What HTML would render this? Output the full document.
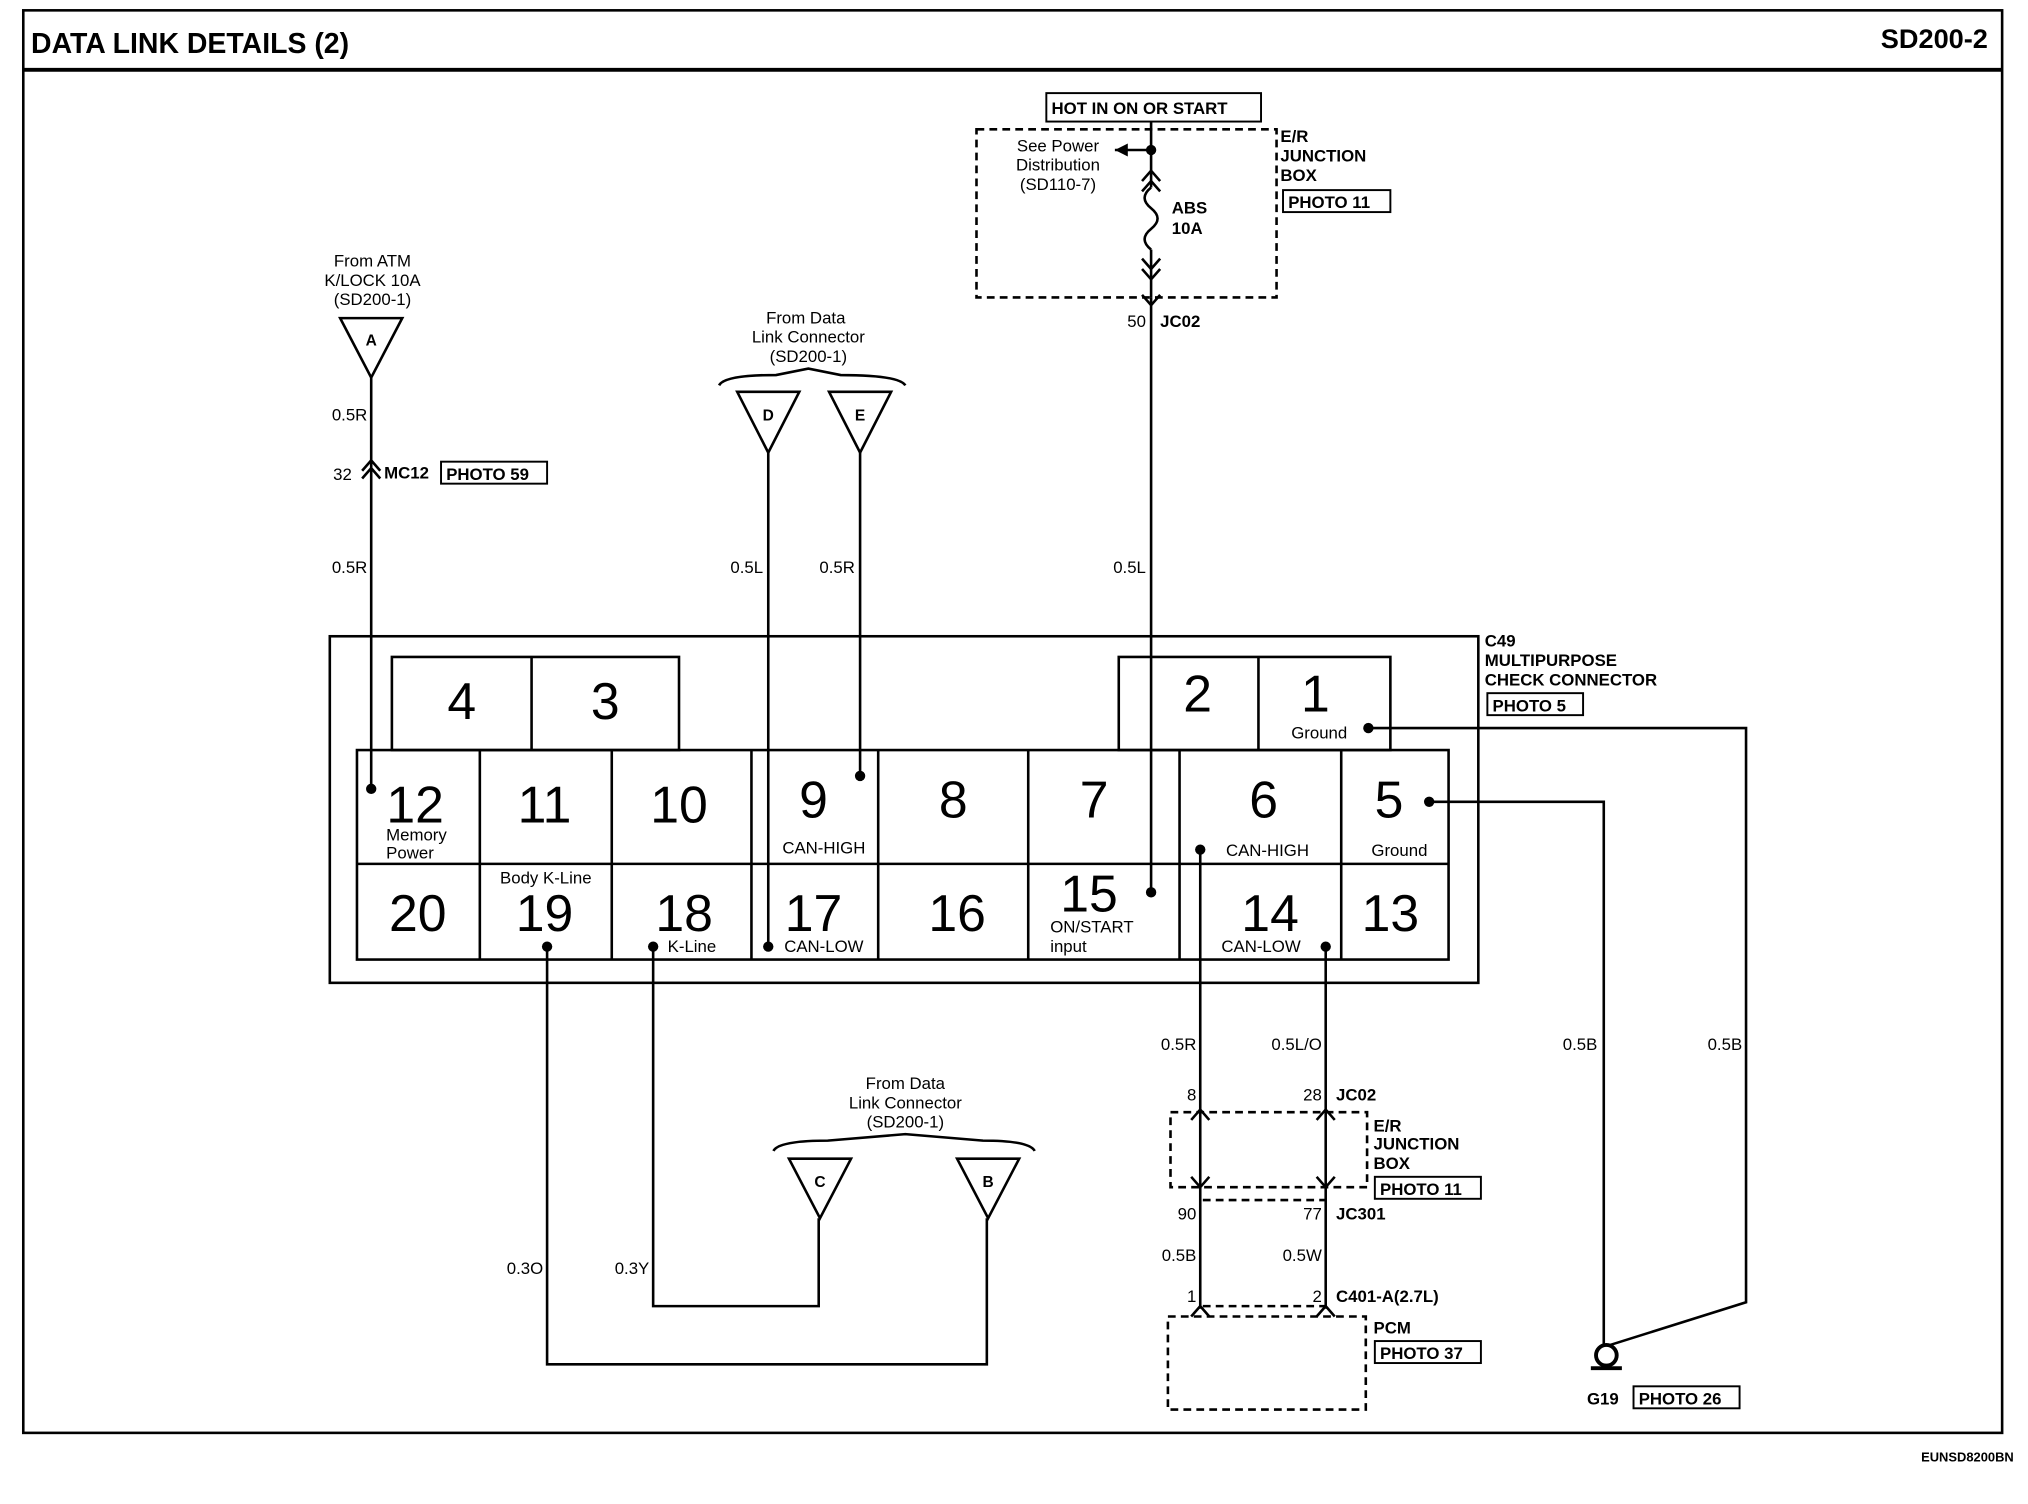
<!DOCTYPE html>
<html><head><meta charset="utf-8"><style>
html,body{margin:0;padding:0;background:#fff;}
svg{display:block;}
text{font-family:"Liberation Sans",Arial,sans-serif;fill:#000;}
.b{font-weight:bold;}
</style></head><body>
<svg width="2028" height="1504" viewBox="0 0 1568 1163" preserveAspectRatio="none" xmlns="http://www.w3.org/2000/svg">
<rect width="1568" height="1163" fill="#fff"/>
<rect x="18" y="8" width="1530" height="1100" fill="none" stroke="#000" stroke-width="2"/>
<line x1="18" y1="54" x2="1548" y2="54" stroke="#000" stroke-width="3"/>
<text x="24" y="41" class="b" font-size="22">DATA LINK DETAILS (2)</text>
<text x="1537" y="37" class="b" font-size="21" text-anchor="end">SD200-2</text>
<text x="1557" y="1130" class="b" font-size="10" text-anchor="end">EUNSD8200BN</text>

<g stroke="#000" fill="none" stroke-width="2">
<rect x="255" y="492" width="888" height="268"/>
<rect x="303" y="508" width="222" height="72"/><line x1="411" y1="508" x2="411" y2="580"/>
<rect x="865" y="508" width="210" height="72"/><line x1="973" y1="508" x2="973" y2="580"/>
<rect x="276" y="580" width="844" height="162"/>
<line x1="276" y1="668" x2="1120" y2="668"/>
<line x1="371" y1="580" x2="371" y2="742"/><line x1="473" y1="580" x2="473" y2="742"/>
<line x1="581" y1="580" x2="581" y2="742"/><line x1="679" y1="580" x2="679" y2="742"/>
<line x1="795" y1="580" x2="795" y2="742"/><line x1="912" y1="580" x2="912" y2="742"/>
<line x1="1037" y1="580" x2="1037" y2="742"/>
<path d="M263 246 L311 246 L287 292 Z"/>
<path d="M570 303 L618 303 L594 350 Z"/>
<path d="M641 303 L689 303 L665 350 Z"/>
<path d="M610 896 L658 896 L634 942 Z"/>
<path d="M740 896 L788 896 L764 942 Z"/>
<path d="M556 298 Q560 290 600 290 L625 285 L650 290 Q695 290 700 298"/>
<path d="M598 890 Q602 882 640 882 L700 877 L760 882 Q796 882 800 890"/>
<polyline points="287,292 287,610"/>
<polyline points="594,350 594,732"/>
<polyline points="665,350 665,600"/>
<polyline points="890,230 890,690"/>
<polyline points="1058,563 1350,563 1350,1007 1245,1040"/>
<polyline points="1105,620 1240,620 1240,1040"/>
<polyline points="423,732 423,1055 763,1055 763,942"/>
<polyline points="505,732 505,1010 633,1010 633,942"/>
<polyline points="928,657 928,1012"/>
<polyline points="1025,732 1025,1012"/>
<rect x="755" y="100" width="232" height="130" stroke-dasharray="6,4"/>
<rect x="809" y="72" width="166" height="22" stroke-width="1.5"/>
<polyline points="890,94 890,145"/>
<path d="M890 145 q-10 8 0 16 q10 8 0 16 q-10 8 0 16" />
<polyline points="890,193 890,230"/>
<polyline points="890,116 862,116"/>
<path d="M883 140 L890 132 L897 140 M883 148 L890 140 L897 148"/>
<path d="M883 200 L890 208 L897 200 M883 208 L890 216 L897 208"/>
<path d="M883 228 L890 236 L897 228"/>
<path d="M280 370 L287 362 L294 370 M280 364 L287 356 L294 364"/>
<rect x="905" y="860" width="152" height="58" stroke-dasharray="6,4"/>
<line x1="930" y1="928" x2="1025" y2="928" stroke-dasharray="6,4"/>
<line x1="930" y1="1010" x2="1025" y2="1010" stroke-dasharray="6,4"/>
<rect x="903" y="1018" width="153" height="72" stroke-dasharray="6,4"/>
<path d="M921 866 L928 858 L935 866 M1018 866 L1025 858 L1032 866"/>
<path d="M921 910 L928 918 L935 910 M1018 910 L1025 918 L1032 910"/>
<path d="M921 1018 L928 1010 L935 1018 M1018 1018 L1025 1010 L1032 1018"/>
<circle cx="1242" cy="1048" r="8" stroke-width="3"/>
<line x1="1230" y1="1058" x2="1254" y2="1058" stroke-width="3"/>
<rect x="341" y="357" width="82" height="17" stroke-width="1.5"/>
<rect x="992" y="147" width="83" height="17" stroke-width="1.5"/>
<rect x="1150" y="536" width="74" height="17" stroke-width="1.5"/>
<rect x="1063" y="910" width="82" height="17" stroke-width="1.5"/>
<rect x="1063" y="1037" width="82" height="17" stroke-width="1.5"/>
<rect x="1263" y="1072" width="82" height="17" stroke-width="1.5"/>
</g>
<path d="M862 116 L872 111 L872 121 Z"/>
<g fill="#000">
<circle cx="287" cy="610" r="4"/><circle cx="594" cy="732" r="4"/><circle cx="665" cy="600" r="4"/>
<circle cx="890" cy="690" r="4"/><circle cx="1058" cy="563" r="4"/><circle cx="1105" cy="620" r="4"/>
<circle cx="423" cy="732" r="4"/><circle cx="505" cy="732" r="4"/><circle cx="928" cy="657" r="4"/>
<circle cx="1025" cy="732" r="4"/><circle cx="890" cy="116" r="4"/>
</g>

<g font-size="14" class="b">
<text x="287" y="267" text-anchor="middle" font-size="12">A</text>
<text x="594" y="325" text-anchor="middle" font-size="12">D</text>
<text x="665" y="325" text-anchor="middle" font-size="12">E</text>
<text x="634" y="918" text-anchor="middle" font-size="12">C</text>
<text x="764" y="918" text-anchor="middle" font-size="12">B</text>
</g>
<g font-size="13" text-anchor="middle">
<text x="288" y="206">From ATM</text><text x="288" y="221">K/LOCK 10A</text><text x="288" y="236">(SD200-1)</text>
<text x="623" y="250">From Data</text><text x="625" y="265">Link Connector</text><text x="625" y="280">(SD200-1)</text>
<text x="700" y="842">From Data</text><text x="700" y="857">Link Connector</text><text x="700" y="872">(SD200-1)</text>
<text x="818" y="117">See Power</text><text x="818" y="132">Distribution</text><text x="818" y="147">(SD110-7)</text>
</g>
<g font-size="13" class="b">
<text x="813" y="88">HOT IN ON OR START</text>
<text x="990" y="110">E/R</text><text x="990" y="125">JUNCTION</text><text x="990" y="140">BOX</text>
<text x="996" y="161">PHOTO 11</text>
<text x="906" y="165">ABS</text><text x="906" y="181">10A</text>
<text x="897" y="253">JC02</text>
<text x="297" y="370">MC12</text><text x="345" y="371">PHOTO 59</text>
<text x="1148" y="500">C49</text><text x="1148" y="515">MULTIPURPOSE</text><text x="1148" y="530">CHECK CONNECTOR</text>
<text x="1154" y="550">PHOTO 5</text>
<text x="1033" y="851">JC02</text>
<text x="1062" y="875">E/R</text><text x="1062" y="889">JUNCTION</text><text x="1062" y="904">BOX</text>
<text x="1067" y="924">PHOTO 11</text>
<text x="1033" y="943">JC301</text>
<text x="1033" y="1007">C401-A(2.7L)</text>
<text x="1062" y="1031">PCM</text><text x="1067" y="1051">PHOTO 37</text>
<text x="1227" y="1086">G19</text><text x="1267" y="1086">PHOTO 26</text>
</g>
<g font-size="13" text-anchor="end">
<text x="284" y="325">0.5R</text><text x="284" y="443">0.5R</text><text x="272" y="371">32</text>
<text x="590" y="443">0.5L</text><text x="661" y="443">0.5R</text><text x="886" y="443">0.5L</text>
<text x="886" y="253">50</text>
<text x="925" y="812">0.5R</text><text x="1022" y="812">0.5L/O</text>
<text x="1235" y="812">0.5B</text><text x="1347" y="812">0.5B</text>
<text x="925" y="851">8</text><text x="1022" y="851">28</text>
<text x="925" y="943">90</text><text x="1022" y="943">77</text>
<text x="925" y="975">0.5B</text><text x="1022" y="975">0.5W</text>
<text x="925" y="1007">1</text><text x="1022" y="1007">2</text>
<text x="420" y="985">0.3O</text><text x="502" y="985">0.3Y</text>
</g>
<g font-size="40" text-anchor="middle">
<text x="357" y="556">4</text><text x="468" y="556">3</text>
<text x="926" y="550">2</text><text x="1017" y="550">1</text>
<text x="321" y="636">12</text><text x="421" y="636">11</text><text x="525" y="636">10</text>
<text x="629" y="632">9</text><text x="737" y="632">8</text><text x="846" y="632">7</text>
<text x="977" y="632">6</text><text x="1074" y="632">5</text>
<text x="323" y="720">20</text><text x="421" y="720">19</text><text x="529" y="720">18</text>
<text x="629" y="720">17</text><text x="740" y="720">16</text><text x="842" y="705">15</text>
<text x="982" y="720">14</text><text x="1075" y="720">13</text>
</g>
<g font-size="13" text-anchor="middle">
<text x="322" y="650">Memory</text><text x="317" y="664">Power</text>
<text x="1020" y="571">Ground</text>
<text x="637" y="660">CAN-HIGH</text><text x="980" y="662">CAN-HIGH</text><text x="1082" y="662">Ground</text>
<text x="422" y="683">Body K-Line</text><text x="535" y="736">K-Line</text>
<text x="637" y="736">CAN-LOW</text><text x="975" y="736">CAN-LOW</text>
</g>
<g font-size="13"><text x="812" y="721">ON/START</text><text x="812" y="736">input</text></g>
</svg>
</body></html>
